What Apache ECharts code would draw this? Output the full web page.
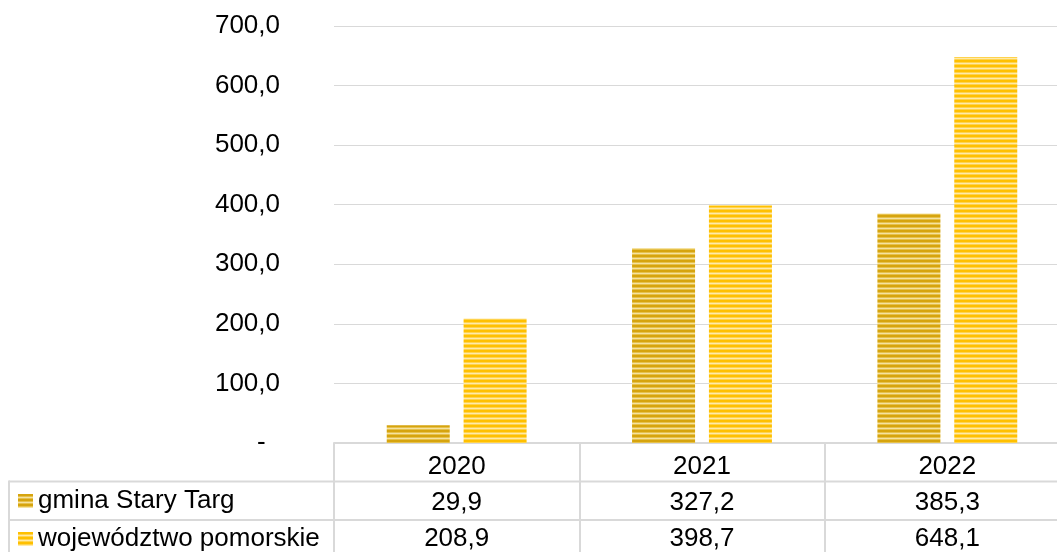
<!DOCTYPE html>
<html lang="pl">
<head>
    <meta charset="utf-8">
    <script src="https://cdn.jsdelivr.net/npm/echarts@6/dist/echarts.min.js"></script>
    <style>
        html,
        body {
            margin: 0;
            width: 100%;
            height: 100%;
            background: #fff;
            overflow: hidden;
        }

        #chart {
            width: 1057px;
            height: 552px;
        }
    </style>
</head>
<body>
<div id="chart"></div>
<script>
    var years = ['2020', '2021', '2022'];
    var gmina = [29.9, 327.2, 385.3];
    var pomorskie = [208.9, 398.7, 648.1];
    var seriesNames = ['gmina Stary Targ', 'województwo pomorskie'];

    // paski poziome w słupkach: ciemny, ciemny, pośredni, jasny, pośredni
    function stripes(dark, mid, light) {
        var c = document.createElement('canvas');
        c.width = 4;
        c.height = 5;
        var ctx = c.getContext('2d');
        ctx.fillStyle = dark;
        ctx.fillRect(0, 0, 4, 5);
        ctx.fillStyle = mid;
        ctx.fillRect(0, 2, 4, 3);
        ctx.fillStyle = light;
        ctx.fillRect(0, 3, 4, 1);
        return {image: c, repeat: 'repeat'};
    }

    function fmt(v) {
        return v.toFixed(1).replace('.', ',');
    }

    var chart = echarts.init(document.getElementById('chart'));
    var font = 'Liberation Sans, Arial, sans-serif';
    var legendText = {fontSize: 26, color: '#000', fontFamily: font};

    chart.setOption({
        animation: false,
        textStyle: {fontFamily: font},
        grid: {left: 334, width: 736, top: 26, bottom: 109, outerBoundsMode: 'none', containLabel: false},
        legend: [
            {
                left: 18, top: 488, padding: 0, icon: 'rect',
                itemWidth: 15, itemHeight: 14, selectedMode: false,
                textStyle: legendText, data: [seriesNames[0]]
            },
            {
                left: 18, top: 526, padding: 0, icon: 'rect',
                itemWidth: 15, itemHeight: 14, selectedMode: false,
                textStyle: legendText, data: [seriesNames[1]]
            }
        ],
        xAxis: {
            type: 'category',
            data: years,
            axisLine: {lineStyle: {color: '#d9d9d9', width: 2}},
            axisTick: {show: true, length: 110, lineStyle: {color: '#d9d9d9', width: 2}},
            axisLabel: {
                margin: 6,
                formatter: function (v, i) {
                    return '{y|' + v + '}\n{y|' + fmt(gmina[i]) + '}\n{y|' + fmt(pomorskie[i]) + '}';
                },
                rich: {
                    y: {fontSize: 26, lineHeight: 36, color: '#000', fontFamily: font}
                }
            }
        },
        yAxis: {
            type: 'value',
            min: 0,
            max: 700,
            interval: 100,
            axisLine: {show: false},
            axisTick: {show: false},
            splitLine: {lineStyle: {color: '#d9d9d9', width: 1}},
            axisLabel: {
                fontSize: 26,
                color: '#000',
                margin: 54,
                formatter: function (v) {
                    return v === 0 ? '-  ' : fmt(v);
                }
            }
        },
        graphic: [
            {type: 'line', shape: {x1: 9, y1: 481.5, x2: 1057, y2: 481.5}, style: {stroke: '#d9d9d9', lineWidth: 2}},
            {type: 'line', shape: {x1: 9, y1: 520, x2: 1057, y2: 520}, style: {stroke: '#d9d9d9', lineWidth: 2}},
            {type: 'line', shape: {x1: 9, y1: 480.5, x2: 9, y2: 552}, style: {stroke: '#d9d9d9', lineWidth: 2}}
        ],
        series: [
            {
                name: seriesNames[0],
                type: 'bar',
                data: gmina,
                barWidth: 63,
                barGap: '22%',
                itemStyle: {color: stripes('#d6a40e', '#e6c14c', '#f5e2a0')}
            },
            {
                name: seriesNames[1],
                type: 'bar',
                data: pomorskie,
                barWidth: 63,
                itemStyle: {color: stripes('#ffc000', '#ffd34d', '#ffeaa8')}
            }
        ]
    });
</script>
</body>
</html>
